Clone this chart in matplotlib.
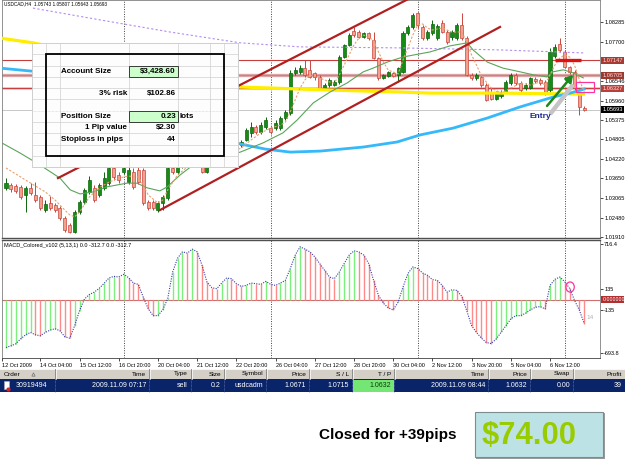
import matplotlib
matplotlib.use("Agg")
import matplotlib.pyplot as plt
import numpy as np
from matplotlib import font_manager
from matplotlib.patches import Rectangle, Ellipse
from matplotlib.transforms import blended_transform_factory

W, H = 625, 469

# ---------------- data ----------------
TITLE = "USDCAD,H4  1.05743 1.05807 1.05643 1.05693"
MACD_TITLE = "MACD_Colored_v102 (5,13,1) 0.0 -312.7 0.0 -312.7"

OPEN = [
    1.0337, 1.0345, 1.0343, 1.0340, 1.0316, 1.0337, 1.0316, 1.0310, 1.0271, 1.0292,
    1.0286, 1.0277, 1.0248, 1.0227, 1.0206, 1.0265, 1.0295, 1.0325, 1.0337, 1.0316,
    1.0337, 1.0351, 1.0396, 1.0375, 1.0384, 1.0354, 1.0384, 1.0390, 1.0390, 1.0295,
    1.0295, 1.0271, 1.0292, 1.0307, 1.0396, 1.0384, 1.0402, 1.0420, 1.0408, 1.0431,
    1.0414, 1.0384, 1.0408, 1.0431, 1.0449, 1.0437, 1.0455, 1.0461, 1.0464, 1.0479,
    1.0500, 1.0517, 1.0503, 1.0517, 1.0514, 1.0514, 1.0514, 1.0544, 1.0559, 1.0678,
    1.0681, 1.0692, 1.0686, 1.0678, 1.0666, 1.0633, 1.0642, 1.0642, 1.0651, 1.0725,
    1.0761, 1.0802, 1.0799, 1.0784, 1.0796, 1.0775, 1.0722, 1.0663, 1.0669, 1.0678,
    1.0672, 1.0681, 1.0796, 1.0814, 1.0855, 1.0814, 1.0781, 1.0796, 1.0781, 1.0826,
    1.0799, 1.0784, 1.0781, 1.0820, 1.0781, 1.0672, 1.0663, 1.0666, 1.0642, 1.0621,
    1.0600, 1.0609, 1.0621, 1.0648, 1.0672, 1.0648, 1.0633, 1.0633, 1.0660, 1.0657,
    1.0651, 1.0627, 1.0728, 1.0764, 1.0740, 1.0695, 1.0681, 1.0618, 1.05743,
]
HIGH = [
    1.0366, 1.0351, 1.0348, 1.0345, 1.0343, 1.0351, 1.0354, 1.0316, 1.0301, 1.0313,
    1.0292, 1.0283, 1.0254, 1.0233, 1.0271, 1.0301, 1.0337, 1.0372, 1.0345, 1.0351,
    1.0384, 1.0402, 1.0405, 1.0384, 1.0411, 1.0405, 1.0396, 1.0405, 1.0396, 1.0301,
    1.0301, 1.0298, 1.0316, 1.0405, 1.0411, 1.0420, 1.0431, 1.0434, 1.0443, 1.0449,
    1.0426, 1.0420, 1.0449, 1.0461, 1.0461, 1.0467, 1.0473, 1.0470, 1.0479, 1.0514,
    1.0532, 1.0523, 1.0532, 1.0547, 1.0520, 1.0538, 1.0550, 1.0568, 1.0686, 1.0695,
    1.0701, 1.0716, 1.0716, 1.0681, 1.0672, 1.0648, 1.0663, 1.0657, 1.0731, 1.0764,
    1.0796, 1.0814, 1.0805, 1.0799, 1.0799, 1.0799, 1.0725, 1.0675, 1.0683, 1.0681,
    1.0695, 1.0802, 1.0820, 1.0855, 1.0858, 1.0820, 1.0805, 1.0835, 1.0823, 1.0835,
    1.0805, 1.0805, 1.0826, 1.0855, 1.0787, 1.0678, 1.0678, 1.0672, 1.0648, 1.0633,
    1.0624, 1.0627, 1.0657, 1.0678, 1.0678, 1.0654, 1.0648, 1.0666, 1.0666, 1.0663,
    1.0657, 1.0752, 1.0764, 1.0781, 1.0746, 1.0698, 1.0686, 1.0621, 1.05807,
]
LOW = [
    1.0331, 1.0325, 1.0322, 1.0304, 1.0265, 1.0316, 1.0295, 1.0271, 1.0265, 1.0271,
    1.0265, 1.0242, 1.0206, 1.0203, 1.0203, 1.0259, 1.0289, 1.0319, 1.0295, 1.0310,
    1.0331, 1.0345, 1.0360, 1.0351, 1.0378, 1.0348, 1.0334, 1.0348, 1.0286, 1.0271,
    1.0271, 1.0265, 1.0271, 1.0301, 1.0378, 1.0378, 1.0396, 1.0402, 1.0402, 1.0411,
    1.0381, 1.0381, 1.0402, 1.0426, 1.0431, 1.0431, 1.0449, 1.0449, 1.0458, 1.0476,
    1.0488, 1.0497, 1.0497, 1.0512, 1.0497, 1.0509, 1.0509, 1.0538, 1.0553, 1.0672,
    1.0675, 1.0666, 1.0663, 1.0657, 1.0627, 1.0627, 1.0636, 1.0639, 1.0645, 1.0722,
    1.0758, 1.0784, 1.0781, 1.0781, 1.0775, 1.0719, 1.0657, 1.0660, 1.0666, 1.0666,
    1.0651, 1.0678, 1.0790, 1.0808, 1.0811, 1.0775, 1.0775, 1.0790, 1.0775, 1.0796,
    1.0764, 1.0775, 1.0775, 1.0775, 1.0669, 1.0657, 1.0657, 1.0636, 1.0595, 1.0598,
    1.0598, 1.0603, 1.0618, 1.0642, 1.0642, 1.0618, 1.0627, 1.0630, 1.0648, 1.0642,
    1.0612, 1.0621, 1.0722, 1.0740, 1.0692, 1.0675, 1.0627, 1.0553, 1.05643,
]
CLOSE = [
    1.0351, 1.0334, 1.0328, 1.0310, 1.0337, 1.0322, 1.0301, 1.0277, 1.0289, 1.0277,
    1.0271, 1.0248, 1.0212, 1.0206, 1.0265, 1.0295, 1.0331, 1.0360, 1.0301, 1.0345,
    1.0366, 1.0396, 1.0369, 1.0360, 1.0396, 1.0390, 1.0340, 1.0354, 1.0292, 1.0277,
    1.0277, 1.0292, 1.0310, 1.0396, 1.0384, 1.0405, 1.0420, 1.0408, 1.0431, 1.0420,
    1.0384, 1.0402, 1.0434, 1.0449, 1.0437, 1.0455, 1.0461, 1.0455, 1.0473, 1.0509,
    1.0517, 1.0503, 1.0523, 1.0538, 1.0503, 1.0529, 1.0544, 1.0562, 1.0678, 1.0686,
    1.0692, 1.0672, 1.0666, 1.0666, 1.0633, 1.0642, 1.0657, 1.0651, 1.0725, 1.0761,
    1.0790, 1.0790, 1.0784, 1.0796, 1.0781, 1.0722, 1.0663, 1.0672, 1.0681, 1.0669,
    1.0692, 1.0796, 1.0814, 1.0850, 1.0820, 1.0781, 1.0799, 1.0823, 1.0817, 1.0799,
    1.0769, 1.0799, 1.0820, 1.0781, 1.0672, 1.0663, 1.0672, 1.0642, 1.0598, 1.0600,
    1.0618, 1.0621, 1.0651, 1.0672, 1.0648, 1.0627, 1.0642, 1.0663, 1.0654, 1.0648,
    1.0621, 1.0740, 1.0755, 1.0746, 1.0695, 1.0681, 1.0633, 1.0577, 1.05693,
]

MACD_HIST = [
    -620, -598, -572, -507, -455, -425, -455, -468, -425, -395,
    -377, -403, -481, -498, -338, -143, 5, 65, 95, 143,
    208, 277, 299, 290, 325, 282, 212, 195, 30, -117,
    -208, -208, -130, 13, 355, 533, 615, 598, 650, 615,
    442, 225, 152, 139, 212, 277, 269, 204, 169, 182,
    212, 204, 195, 234, 195, 182, 212, 247, 399, 572,
    680, 650, 615, 550, 464, 377, 290, 269, 355, 464,
    572, 628, 615, 572, 464, 247, 52, -48, -108, -134,
    -35, 160, 334, 420, 399, 342, 312, 256, 247, 182,
    95, 126, 117, 40, -143, -338, -425, -498, -555, -568,
    -511, -425, -338, -251, -208, -208, -178, -134, -100, -91,
    -121, 182, 260, 290, 230, 143, -10, -140, -312.7,
]

# moving averages (bar index, price) as traced on the picture
MA_FAST_BARS = [0, 4, 8, 10, 12, 13, 14, 15, 17, 19, 21, 23, 25, 27, 28, 29, 31, 32, 33, 35,
                37, 40, 44, 48, 50, 52, 54, 56, 57, 58, 59, 60, 61, 62, 64, 66, 67, 68, 69, 70,
                71, 72, 73, 75, 76, 77, 78, 80, 81, 82, 83, 84, 85, 86, 87, 89, 91, 93, 94, 95,
                96, 97, 98, 99, 101, 103, 105, 107, 109, 110, 111, 112, 113, 114, 115, 116, 117, 118]
MA_FAST = [1.0396, 1.0360, 1.0325, 1.0301, 1.0271, 1.0257, 1.0251, 1.0265, 1.0310, 1.0337,
           1.0354, 1.0366, 1.0372, 1.0369, 1.0345, 1.0316, 1.0292, 1.0301, 1.0331, 1.0375,
           1.0399, 1.0414, 1.0434, 1.0455, 1.0479, 1.0500, 1.0514, 1.0523, 1.0532, 1.0562,
           1.0598, 1.0633, 1.0657, 1.0672, 1.0663, 1.0651, 1.0648, 1.0672, 1.0701, 1.0731,
           1.0761, 1.0781, 1.0790, 1.0775, 1.0740, 1.0710, 1.0686, 1.0675, 1.0716, 1.0752,
           1.0790, 1.0820, 1.0823, 1.0811, 1.0805, 1.0811, 1.0799, 1.0799, 1.0769, 1.0731,
           1.0701, 1.0669, 1.0651, 1.0633, 1.0618, 1.0633, 1.0648, 1.0642, 1.0651, 1.0642,
           1.0672, 1.0701, 1.0722, 1.0731, 1.0725, 1.0701, 1.0657, 1.0621]

MA_GREEN_BARS = [-1.2, 2.9, 6.9, 11.0, 13.1, 15.1, 17.8, 20.6, 24.7, 26.7, 28.8, 31.4, 32.9,
                 35.5, 38.2, 47.8, 52.4, 56.5, 59.4, 62.7, 66.1, 69.6, 72.9, 74.9, 77.8, 81.0,
                 86.5, 90.6, 94.1, 95.3, 98.2, 101.4, 104.9, 107.6, 110.4, 111.6, 113.7, 115.7, 117.8]
MA_GREEN = [1.0473, 1.0440, 1.0405, 1.0366, 1.0331, 1.0319, 1.0325, 1.0340, 1.0351, 1.0351,
            1.0337, 1.0328, 1.0340, 1.0375, 1.0405, 1.0443, 1.0470, 1.0500, 1.0538, 1.0589,
            1.0621, 1.0648, 1.0681, 1.0692, 1.0710, 1.0725, 1.0740, 1.0758, 1.0767, 1.0746,
            1.0710, 1.0692, 1.0681, 1.0672, 1.0666, 1.0681, 1.0687, 1.0678, 1.0663]

MA_CYAN_BARS = [-1.2, 5.3, 47.8, 52.9, 58.0, 64.1, 72.9, 79.8, 84.5, 91.2, 98.2, 104.9, 111.6, 115.1, 118.0]
MA_CYAN = [1.0692, 1.0683, 1.0467, 1.0452, 1.0443, 1.0446, 1.0458, 1.0473, 1.0494, 1.0514,
           1.0544, 1.0577, 1.0606, 1.0618, 1.0630]

MA_YELLOW_BARS = [-1.2, 5.5, 47.8, 60.0, 66.1, 80.4, 86.5, 100.8, 117.8]
MA_YELLOW = [1.0781, 1.0767, 1.0636, 1.0630, 1.0627, 1.0621, 1.0618, 1.0618, 1.0615]

MA_PURPLE_BARS = [5.5, 19.2, 33.5, 47.8, 60.0, 80.4, 100.8, 118.2]
MA_PURPLE = [1.0870, 1.0835, 1.0799, 1.0767, 1.0755, 1.0752, 1.0746, 1.0737]

CHANNEL_UPPER = [(10.6, 1.0366), (82.5, 1.0900)]
CHANNEL_LOWER = [(31.4, 1.0271), (100.8, 1.0814)]

STOP_LOSS = 1.07147
ENTRY_LEVEL = 1.06705
TAKE_PROFIT = 1.06327
BID = 1.05693
LEVEL_PRICES = [STOP_LOSS, ENTRY_LEVEL, TAKE_PROFIT, BID]
SL_MARK_BARS = [112.0, 117.3]
TP_BOX = (116.3, 120.0, 1.0621, 1.0651)
ARROW_TAIL = (110.4, 1.0580)
ARROW_HEAD = (115.7, 1.0672)
ENTRY_LABEL_AT = (109.0, 1.0550)
MACD_MARK_AT = (115.1, 161)

PRICE_TICKS = [1.08285, 1.07700, 1.06546, 1.05960, 1.05375, 1.04805, 1.04220,
               1.03650, 1.03065, 1.02480, 1.01910]
MACD_TICKS = [716.4, 135, -135, -693.8]
MACD_TICK_LABELS = ["716.4", "135", "-135", "-693.8"]

WEEK_BARS = [24, 54, 84, 114]
TIME_LABEL_BARS = [-0.8, 7, 15, 23, 31, 39, 47, 55, 63, 71, 79, 87, 95, 103, 111]
TIME_LABELS = ["12 Oct 2009", "14 Oct 04:00", "15 Oct 12:00", "16 Oct 20:00", "20 Oct 04:00",
               "21 Oct 12:00", "22 Oct 20:00", "26 Oct 04:00", "27 Oct 12:00", "28 Oct 20:00",
               "30 Oct 04:00", "2 Nov 12:00", "3 Nov 20:00", "5 Nov 04:00", "6 Nov 12:00"]

SHEET_LABELS = ["Account Size", "3% risk", "Position Size", "1 Pip value", "Stoploss in pips"]
SHEET_VALUES = ["$3,428.60", "$102.86", "0.23", "$2.30", "44"]
SHEET_UNIT = "lots"

TABLE_HEADERS = ["Order", "Time", "Type", "Size", "Symbol", "Price", "S / L", "T / P",
                 "Time", "Price", "Swap", "Profit"]
TABLE_ROW = ["30919494", "2009.11.09 07:17", "sell", "0.2", "usdcadm", "1.0671", "1.0715",
             "1.0632", "2009.11.09 08:44", "1.0632", "0.00", "39"]

RESULT_TEXT = "Closed for +39pips"
RESULT_PROFIT = "$74.00"


def pick_font(*names):
    installed = {f.name for f in font_manager.fontManager.ttflist}
    for n in names:
        if n in installed:
            return n
    return "DejaVu Sans"


SANS = pick_font("Liberation Sans", "Arial")
# the screenshot uses a condensed UI font; without one, shrink the regular face a bit
NARROW = pick_font("Liberation Sans Narrow", SANS)
SQUEEZE = 1.0 if NARROW == "Liberation Sans Narrow" else 0.86
plt.rcParams["font.family"] = [NARROW, "DejaVu Sans"]

XLIM = (-0.82, 121.2)


def fs(size):
    return size * SQUEEZE


def px_axes(fig, x0, y0, x1, y1, **kw):
    return fig.add_axes([x0 / W, 1 - y1 / H, (x1 - x0) / W, (y1 - y0) / H], **kw)


def side_tag(ax, y, text, face, fg, half_h, size=4.6):
    tr = blended_transform_factory(ax.transAxes, ax.transData)
    ax.add_patch(Rectangle((1.002, y - half_h), 0.0385, 2 * half_h, transform=tr,
                           fc=face, ec="none", clip_on=False, zorder=10))
    ax.text(1.0045, y, text, transform=tr, ha="left", va="center", fontsize=fs(size),
            color=fg, clip_on=False, zorder=11)


def draw_candles(ax):
    o, h, l, c = (np.asarray(a, dtype=float) for a in (OPEN, HIGH, LOW, CLOSE))
    x = np.arange(len(o))
    up = c >= o
    styles = ((up, "#168c16", "#0c650c"), (~up, "#f3a08e", "#c8463c"))
    for mask, face, edge in styles:
        ax.vlines(x[mask], l[mask], h[mask], color=edge, lw=0.7, zorder=3)
        ax.bar(x[mask], np.abs(c - o)[mask], bottom=np.minimum(o, c)[mask], width=0.62,
               color=face, edgecolor=edge, linewidth=0.5, zorder=4)


def draw_price_panel(ax):
    ax.set_xlim(*XLIM)
    ax.set_ylim(1.01883, 1.0894)
    ax.set_xticks([])
    ax.yaxis.tick_right()
    ax.set_yticks(PRICE_TICKS)
    ax.set_yticklabels([f"{p:.5f}" for p in PRICE_TICKS])
    ax.tick_params(axis="y", length=2, width=0.5, pad=1.0, labelsize=fs(4.7))
    for s in ax.spines.values():
        s.set_color("#808080")
        s.set_linewidth(0.6)
    ax.spines["bottom"].set_color("#505050")
    ax.spines["bottom"].set_linewidth(1.0)

    for b in WEEK_BARS:
        ax.axvline(b, color="#404040", lw=0.7, ls=(0, (1, 1.5)), zorder=1)

    ax.axhline(STOP_LOSS, color="#c83c3c", lw=0.8, zorder=2)
    ax.axhline(ENTRY_LEVEL, color="#dca4a4", lw=2.4, zorder=2)
    ax.axhline(ENTRY_LEVEL, color="#c87070", lw=0.5, zorder=2)
    ax.axhline(TAKE_PROFIT, color="#eeb0b0", lw=1.8, zorder=2)
    ax.axhline(TAKE_PROFIT, color="#c83c3c", lw=0.7, zorder=2)
    ax.axhline(BID, color="#c8c8c8", lw=0.7, zorder=2)

    draw_candles(ax)

    ax.plot(MA_YELLOW_BARS, MA_YELLOW, color="#ffee00", lw=2.3, zorder=5)
    ax.plot(MA_CYAN_BARS, MA_CYAN, color="#35b9fb", lw=2.0, zorder=5)
    ax.plot(MA_PURPLE_BARS, MA_PURPLE, color="#b48cf0", lw=0.8, ls=(0, (2, 2)), zorder=5)
    ax.plot(MA_GREEN_BARS, MA_GREEN, color="#5aa55a", lw=0.8, zorder=5)
    ax.plot(MA_FAST_BARS, MA_FAST, color="#e8a070", lw=0.8, ls=(0, (2, 1.5)), zorder=5)

    for (x1, y1), (x2, y2) in (CHANNEL_UPPER, CHANNEL_LOWER):
        ax.plot([x1, x2], [y1, y2], color="#b02020", lw=1.6, zorder=6)

    ax.plot(SL_MARK_BARS, [STOP_LOSS, STOP_LOSS], color="#e01010", lw=2.4,
            solid_capstyle="butt", zorder=7)
    bx0, bx1, by0, by1 = TP_BOX
    ax.add_patch(Rectangle((bx0, by0), bx1 - bx0, by1 - by0, fill=False,
                           ec="#ff3399", lw=0.9, zorder=7))

    # arrow with its grey shadow
    ax.plot([ARROW_TAIL[0] + 0.8, ARROW_HEAD[0] - 0.2], [ARROW_TAIL[1] - 0.0021, ARROW_HEAD[1] - 0.0033],
            color="#c4c4c4", lw=3.2, solid_capstyle="round", zorder=7)
    ax.annotate("", xy=ARROW_HEAD, xytext=ARROW_TAIL,
                arrowprops=dict(arrowstyle="-|>,head_length=0.5,head_width=0.3", color="#1b8a1b",
                                lw=1.8, shrinkA=0, shrinkB=0, mutation_scale=8), zorder=8)
    ax.text(*ENTRY_LABEL_AT, "Entry", color="#1c2688", fontsize=6, fontweight="bold",
            family=SANS, ha="center", va="center", zorder=8)

    ax.text(0.003, 0.995, TITLE, transform=ax.transAxes, va="top", ha="left", fontsize=fs(4.0))

    tag_faces = ["#a83a32", "#9a3a30", "#b8403a", "#000000"]
    tag_text = ["#ffe0e0", "#ffe0e0", "#ffe0e0", "#ffffff"]
    for p, face, fg in zip(LEVEL_PRICES, tag_faces, tag_text):
        side_tag(ax, p, f"{p:.5f}", face, fg, half_h=0.00104, size=4.7)


def draw_macd_panel(ax):
    ax.set_xlim(*XLIM)
    ax.set_ylim(-754.6, 767.6)
    v = np.asarray(MACD_HIST, dtype=float)
    x = np.arange(len(v))
    rising = np.r_[True, v[1:] >= v[:-1]]
    ax.vlines(x[rising], 0, v[rising], color="#7cf07c", lw=1.0, zorder=2)
    ax.vlines(x[~rising], 0, v[~rising], color="#ff8a8a", lw=1.0, zorder=2)
    ax.plot(x, v, color="#3c3ca8", lw=0.8, ls=(0, (1, 1.2)), zorder=3)
    ax.axhline(0, color="#d07070", lw=0.8, zorder=1)
    for b in WEEK_BARS:
        ax.axvline(b, color="#404040", lw=0.7, ls=(0, (1, 1.5)), zorder=1)

    ax.add_patch(Ellipse(MACD_MARK_AT, width=1.7, height=130, fill=False,
                         ec="#ff3399", lw=0.9, zorder=4))
    ax.text(119.2, -226, "14", color="#b0b0b0", fontsize=4.6, ha="center", va="center")
    ax.text(0.003, 0.975, MACD_TITLE, transform=ax.transAxes, va="top", ha="left", fontsize=fs(4.6))

    ax.yaxis.tick_right()
    ax.set_yticks(MACD_TICKS)
    ax.set_yticklabels(MACD_TICK_LABELS)
    ax.tick_params(axis="y", length=2, width=0.5, pad=1.0, labelsize=fs(4.6))
    side_tag(ax, 0, "0.000000", "#b03030", "white", half_h=45, size=4.4)

    ax.set_xticks(TIME_LABEL_BARS)
    ax.set_xticklabels(TIME_LABELS)
    ax.tick_params(axis="x", length=2.5, width=0.5, pad=1.0, labelsize=fs(4.6))
    for lbl in ax.get_xticklabels():
        lbl.set_horizontalalignment("left")
    for s in ax.spines.values():
        s.set_color("#808080")
        s.set_linewidth(0.6)
    ax.spines["top"].set_color("#505050")
    ax.spines["top"].set_linewidth(1.0)
    ax.spines["bottom"].set_color("#404040")


def draw_sheet(ov):
    x0, x1, y0, y1 = 32, 238, 43, 167.3
    step = (y1 - y0) / 11
    ov.add_patch(Rectangle((x0, y0), x1 - x0, y1 - y0, fc="#fdfdfd", ec="#c8c8c8", lw=0.6, zorder=1))
    for k in range(12):
        y = y0 + k * step
        ov.plot([x0, x1], [y, y], color="#d0d0d0", lw=0.5,
                ls=(0, (1, 1)) if k == 6 else "-", zorder=2)
    for x in (46, 60, 129, 178, 210, 224):
        ov.plot([x, x], [y0, y1], color="#d0d0d0", lw=0.5, zorder=2)
    for k in (2, 6):
        ov.add_patch(Rectangle((129, y0 + k * step), 49, step, fc="#ccffcc", ec="#202020",
                               lw=0.6, zorder=3))
    ov.add_patch(Rectangle((45.5, y0 + step), 178.5, 9 * step, fill=False, ec="black",
                           lw=1.3, zorder=4))

    rows = [2, 4, 6, 7, 8]
    for i, (label, value, k) in enumerate(zip(SHEET_LABELS, SHEET_VALUES, rows)):
        yc = y0 + (k + 0.5) * step
        if i in (0, 2, 4):
            ov.text(61, yc, label, ha="left", va="center", fontsize=5.8, fontweight="bold",
                    family=SANS, zorder=5)
        else:
            ov.text(127, yc, label, ha="right", va="center", fontsize=5.8, fontweight="bold",
                    family=SANS, zorder=5)
        ov.text(176, yc, value, ha="right", va="center", fontsize=5.8, fontweight="bold",
                family=SANS, zorder=5)
        if i == 2:
            ov.text(180, yc, SHEET_UNIT, ha="left", va="center", fontsize=5.8,
                    fontweight="bold", family=SANS, zorder=5)


def draw_table(ov):
    edges = [0, 55, 149, 191, 224, 266, 309, 352, 394, 488, 530, 573, 625]
    ov.add_patch(Rectangle((0, 369), W, 10, fc="#d4d0c8", ec="none", zorder=1))
    ov.plot([0, W], [369.3, 369.3], color="white", lw=0.6, zorder=2)
    ov.add_patch(Rectangle((0, 379), W, 13.5, fc="#0a246a", ec="none", zorder=1))
    ov.add_patch(Rectangle((edges[7] + 0.5, 379.6), edges[8] - edges[7] - 1, 12.3,
                           fc="#74e674", ec="none", zorder=2))
    for e in edges[1:-1]:
        ov.plot([e, e], [369, 379], color="#808080", lw=0.6, zorder=2)
        ov.plot([e + 0.8, e + 0.8], [369, 379], color="white", lw=0.5, zorder=2)
        ov.plot([e, e], [379, 392.5], color="#6f7fb8", lw=0.5, ls=(0, (1, 1)), zorder=3)

    for i, (head, val) in enumerate(zip(TABLE_HEADERS, TABLE_ROW)):
        if i == 0:
            ov.text(4, 374, head, ha="left", va="center", fontsize=fs(5.4), zorder=4)
            ov.plot([33], [374.3], marker="^", ms=2.4, mfc="none", mec="#707070", mew=0.5, zorder=4)
            ov.text(16, 385.8, val, ha="left", va="center", fontsize=fs(5.9), color="white", zorder=4)
        else:
            right = edges[i + 1] - 3
            ov.text(right, 374, head, ha="right", va="center", fontsize=fs(5.4), zorder=4)
            ov.text(right, 385.8, val, ha="right", va="center", fontsize=fs(5.9),
                    color="#0a3a0a" if i == 7 else "white", zorder=4)

    # order icon
    ov.add_patch(Rectangle((4, 381), 5, 8.5, fc="white", ec="#b0b0b0", lw=0.4, zorder=4))
    ov.plot([8.3], [388.8], marker="o", ms=2.0, color="#e02020", zorder=5)


def draw_result(ov):
    ov.text(388, 435, RESULT_TEXT, ha="center", va="center", fontsize=11,
            fontweight="bold", family=SANS)
    ov.add_patch(Rectangle((476, 458), 128, 1.5, fc="#9a9a9a", ec="none", zorder=1))
    ov.add_patch(Rectangle((603, 413), 1.5, 46, fc="#9a9a9a", ec="none", zorder=1))
    ov.add_patch(Rectangle((475, 412), 128, 45.5, fc="#bde2e6", ec="#7c8c8e", lw=0.8, zorder=2))
    ov.text(482, 436, RESULT_PROFIT, ha="left", va="center", fontsize=fs(26), fontweight="bold",
            color="#99cc00", family=NARROW, zorder=3)


def main():
    fig = plt.figure(figsize=(W / 100, H / 100), dpi=100, facecolor="white")
    ax_price = px_axes(fig, 2, 0, 600, 238)
    ax_macd = px_axes(fig, 2, 240, 600, 358)
    draw_price_panel(ax_price)
    draw_macd_panel(ax_macd)

    ov = fig.add_axes([0, 0, 1, 1], zorder=10)
    ov.set_xlim(0, W)
    ov.set_ylim(H, 0)
    ov.axis("off")
    ov.patch.set_alpha(0)
    draw_sheet(ov)
    draw_table(ov)
    draw_result(ov)

    fig.savefig("out.png", dpi=100, facecolor="white")
    plt.close(fig)


if __name__ == "__main__":
    main()
